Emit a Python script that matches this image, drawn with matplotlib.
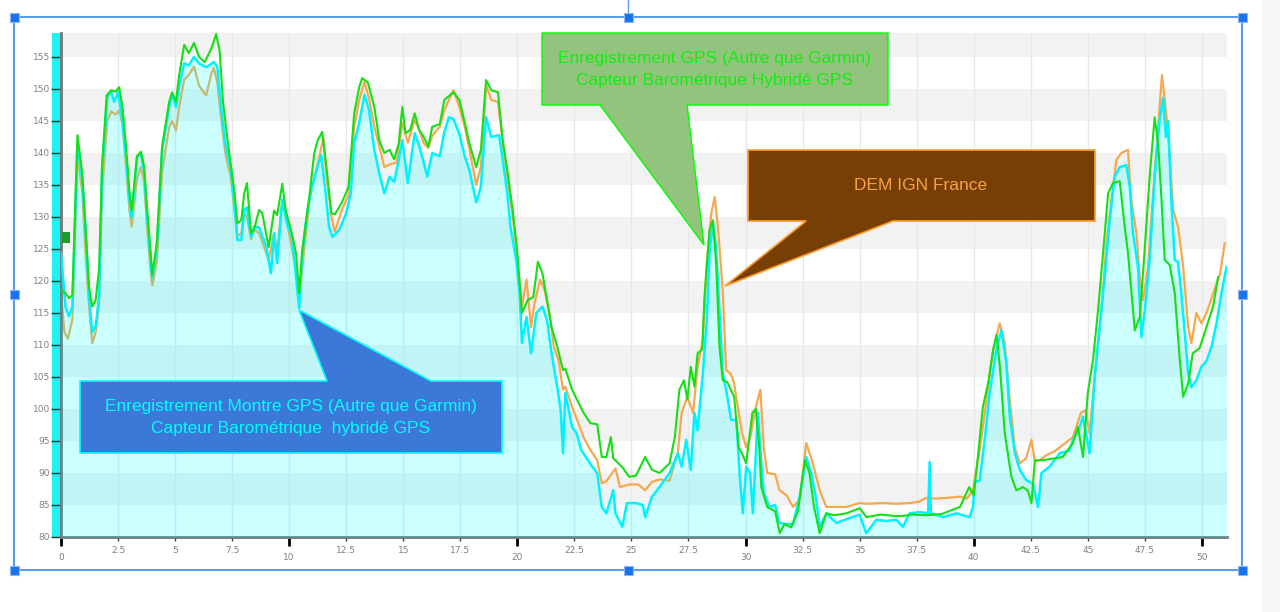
import matplotlib
matplotlib.use("Agg")
import matplotlib.pyplot as plt
from matplotlib.patches import Polygon, Rectangle
from matplotlib.lines import Line2D
from matplotlib.ticker import MultipleLocator, FuncFormatter

# ---------------- data ----------------
# Cyan: Enregistrement Montre GPS (Autre que Garmin) - barométrique hybridé GPS
cyan_x = [0.0, 0.2, 0.35, 0.5, 0.72, 0.93, 1.08, 1.23, 1.37, 1.52, 1.67, 1.8, 2.03, 2.2, 2.33, 2.5, 2.63,
          2.85, 3.0, 3.1, 3.33, 3.5, 3.64, 3.78, 3.94, 4.0, 4.2, 4.43, 4.74, 4.87, 5.04, 5.17, 5.4, 5.6,
          5.83, 6.05, 6.36, 6.7, 6.85, 7.0, 7.2, 7.45, 7.6, 7.73, 7.9, 8.03, 8.15, 8.33, 8.46, 8.68, 9.0,
          9.2, 9.34, 9.47, 9.7, 9.9, 10.13, 10.3, 10.44, 10.57, 10.8, 11.0, 11.2, 11.4, 11.6, 11.75, 11.9,
          12.2, 12.5, 12.7, 12.85, 13.07, 13.3, 13.5, 13.73, 13.95, 14.17, 14.4, 14.6, 14.8, 14.96, 15.2,
          15.5, 15.7, 15.9, 16.05, 16.27, 16.6, 16.8, 17.0, 17.2, 17.46, 17.7, 17.9, 18.2, 18.4, 18.63,
          18.86, 19.08, 19.2, 19.36, 19.56, 19.7, 19.95, 20.1, 20.2, 20.4, 20.6, 20.83, 21.1, 21.3, 21.5,
          21.75, 21.9, 22.0, 22.1, 22.4, 22.6, 22.8, 23.0, 23.3, 23.5, 23.7, 23.9, 24.2, 24.3, 24.6, 24.8,
          25.2, 25.5, 25.6, 25.9, 26.23, 26.67, 27.03, 27.2, 27.4, 27.6, 27.76, 27.9, 28.13, 28.3, 28.42,
          28.57, 28.71, 28.86, 29.0, 29.15, 29.37, 29.6, 29.74, 29.88, 30.03, 30.2, 30.32, 30.54, 30.69,
          30.8, 31.05, 31.3, 31.49, 31.8, 32.08, 32.37, 32.66, 32.88, 33.1, 33.25, 33.54, 33.98, 34.42,
          35.0, 35.29, 35.73, 36.17, 36.6, 36.9, 37.19, 37.63, 38.0, 38.07, 38.12, 38.65, 39.24, 39.82,
          39.97, 40.04, 40.26, 40.48, 40.7, 40.99, 41.21, 41.43, 41.58, 41.8, 42.02, 42.3, 42.6, 42.82,
          42.97, 43.33, 43.77, 44.2, 44.35, 44.64, 44.79, 45.08, 45.3, 45.52, 45.74, 45.96, 46.18, 46.4,
          46.69, 46.84, 46.98, 47.2, 47.35, 47.5, 47.71, 47.93, 48.15, 48.3, 48.42, 48.52, 48.66, 48.81,
          48.95, 49.1, 49.25, 49.4, 49.54, 49.76, 49.98, 50.2, 50.42, 50.64, 50.86, 51.08]
cyan_y = [124.4, 115.9, 114.5, 116.0, 141.3, 135.8, 128.0, 117.5, 112.0, 113.0, 117.5, 137.3, 148.8, 149.5,
          148.0, 149.5, 146.7, 139.4, 132.7, 130.0, 139.4, 140.0, 137.2, 130.0, 122.8, 120.5, 125.3, 140.5,
          147.2, 149.1, 147.2, 150.3, 154.0, 153.7, 155.0, 154.0, 153.4, 154.2, 153.5, 147.8, 141.6, 137.3,
          132.2, 126.4, 126.4, 131.1, 131.5, 126.9, 128.5, 128.4, 125.3, 121.2, 127.5, 122.8, 132.7, 129.0,
          126.9, 120.6, 115.8, 124.4, 131.0, 134.7, 137.3, 139.7, 133.7, 128.4, 126.9, 128.0, 130.6, 133.7,
          141.5, 144.7, 149.1, 146.7, 140.5, 136.8, 133.7, 136.3, 135.5, 138.9, 142.0, 135.3, 143.1, 141.0,
          138.5, 136.3, 140.0, 139.5, 143.3, 145.6, 145.3, 143.0, 139.4, 137.3, 132.3, 134.7, 145.6, 142.5,
          142.7, 142.8, 138.9, 133.7, 128.4, 123.3, 118.1, 110.3, 114.4, 108.7, 115.0, 116.0, 113.9, 108.7,
          103.4, 99.8, 93.1, 102.5, 97.2, 96.2, 93.6, 92.5, 90.9, 90.0, 84.7, 83.7, 87.3, 83.7, 81.6, 85.3,
          85.3, 85.0, 83.1, 86.3, 87.8, 90.0, 93.1, 91.0, 95.2, 90.5, 99.4, 96.7, 105.6, 113.9, 124.4,
          129.0, 125.3, 115.0, 105.6, 103.0, 98.3, 98.3, 90.0, 83.7, 91.0, 90.0, 83.7, 99.4, 91.5,
          86.9, 84.7, 85.0, 82.2, 82.0, 82.0, 86.3, 92.5, 90.0, 85.8, 81.6, 83.7, 82.2, 82.8,
          83.5, 80.6, 82.7, 82.5, 82.7, 81.6, 83.7, 83.9, 83.7, 91.7, 83.7, 83.1, 83.7, 83.1,
          84.7, 88.6, 88.8, 95.2, 102.5, 109.2, 112.3, 107.2, 98.8, 93.1, 90.5, 88.9, 88.3, 84.7,
          90.0, 91.0, 93.1, 93.5, 95.2, 97.2, 98.8, 93.1, 105.0, 112.8, 120.6, 129.5, 136.3, 137.8,
          138.1, 134.7, 127.5, 122.2, 111.25, 115.5, 123.3, 136.3, 145.2, 148.6, 142.5, 145.0, 132.7, 123.3,
          123.0, 118.1, 111.9, 105.6, 103.4, 104.5, 106.6, 107.5, 109.7, 113.4, 118.1, 122.2]

# Green: Enregistrement GPS (Autre que Garmin) - barométrique hybridé GPS
green_x = [0.0, 0.2, 0.35, 0.5, 0.72, 0.93, 1.08, 1.23, 1.37, 1.52, 1.67, 1.8, 2.0, 2.2, 2.4, 2.55, 2.7,
           2.85, 3.0, 3.1, 3.33, 3.5, 3.64, 3.78, 3.94, 4.0, 4.2, 4.43, 4.74, 4.87, 5.04, 5.17, 5.4, 5.6,
           5.83, 6.05, 6.3, 6.6, 6.8, 6.95, 7.1, 7.3, 7.45, 7.6, 7.73, 7.9, 8.03, 8.15, 8.33, 8.46, 8.68,
           8.82, 9.1, 9.34, 9.47, 9.7, 9.85, 10.05, 10.3, 10.44, 10.57, 10.9, 11.1, 11.25, 11.45, 11.6,
           11.85, 12.0, 12.3, 12.6, 12.85, 13.07, 13.2, 13.45, 13.73, 13.95, 14.17, 14.4, 14.6, 14.8, 14.96,
           15.1, 15.3, 15.5, 15.7, 15.9, 16.1, 16.27, 16.6, 16.8, 17.2, 17.46, 17.7, 17.9, 18.2, 18.4,
           18.63, 18.86, 19.15, 19.36, 19.56, 19.8, 20.0, 20.2, 20.45, 20.7, 20.9, 21.1, 21.3, 21.5, 21.75,
           22.0, 22.1, 22.4, 22.9, 23.2, 23.5, 23.7, 23.9, 24.1, 24.2, 24.6, 24.9, 25.2, 25.6, 25.9, 26.23,
           26.67, 26.9, 27.1, 27.3, 27.45, 27.6, 27.76, 27.9, 28.1, 28.2, 28.42, 28.57, 28.71, 28.86, 29.0,
           29.2, 29.5, 29.7, 29.85, 30.03, 30.3, 30.45, 30.6, 30.69, 30.95, 31.3, 31.5, 31.7, 32.0, 32.3,
           32.6, 32.8, 33.0, 33.25, 33.54, 33.9, 34.42, 35.0, 35.3, 35.9, 36.5, 36.9, 37.3, 37.9, 38.6,
           39.4, 39.8, 40.0, 40.2, 40.4, 40.63, 40.85, 41.0, 41.15, 41.36, 41.65, 41.87, 42.16, 42.38,
           42.53, 42.68, 43.04, 43.9, 44.35, 44.57, 44.79, 45.0, 45.23, 45.45, 45.67, 45.89, 46.1, 46.4,
           46.62, 46.76, 47.06, 47.28, 47.5, 47.71, 47.93, 48.08, 48.23, 48.37, 48.59, 48.81, 49.03, 49.18,
           49.4, 49.6, 49.9, 50.2, 50.49, 50.71]
green_y = [118.6, 118.1, 117.3, 117.8, 142.8, 137.0, 128.0, 119.0, 116.0, 117.0, 122.0, 138.0, 149.0, 149.8,
           149.6, 150.3, 147.0, 141.0, 134.0, 131.0, 139.5, 140.2, 138.0, 131.0, 124.0, 121.0, 126.0, 141.0,
           148.0, 149.5, 148.0, 152.0, 156.9, 155.6, 157.2, 155.0, 154.2, 156.4, 158.6, 156.0, 148.0, 142.0,
           138.0, 134.0, 129.0, 129.5, 133.7, 135.3, 127.5, 128.0, 131.1, 130.6, 125.3, 131.0, 130.3, 135.2,
           131.0, 128.4, 124.4, 118.1, 124.7, 133.7, 140.0, 142.0, 143.3, 138.9, 130.6, 130.4, 132.2, 134.7,
           146.2, 150.3, 151.7, 151.0, 147.2, 142.0, 140.0, 140.5, 139.0, 141.5, 147.2, 143.1, 143.6, 146.2,
           143.6, 142.5, 141.0, 144.1, 144.5, 148.3, 149.5, 148.3, 144.7, 141.5, 137.8, 140.5, 151.4, 149.8,
           149.5, 142.0, 137.3, 131.0, 124.4, 115.0, 117.0, 117.5, 123.0, 121.2, 117.0, 112.8, 109.7, 106.1,
           106.3, 103.0, 99.4, 97.8, 97.6, 92.5, 92.5, 95.6, 92.3, 90.9, 89.4, 89.6, 92.5, 90.5, 90.0,
           91.5, 95.6, 103.0, 104.5, 101.5, 106.6, 103.5, 108.7, 109.3, 117.5, 128.0, 129.5, 122.8, 109.7,
           104.5, 104.2, 101.9, 94.0, 93.0, 91.5, 99.4, 100.0, 94.0, 87.8, 84.7, 84.0, 80.6, 82.0, 81.5,
           84.0, 92.0, 90.0, 84.7, 80.6, 83.7, 83.4, 83.7, 84.5, 83.1, 83.5, 83.3, 83.3, 83.5, 83.4, 83.6,
           84.7, 87.8, 86.5, 93.1, 100.3, 104.0, 109.2, 111.6, 106.5, 96.2, 89.4, 87.3, 87.8, 87.2,
           85.3, 92.0, 92.0, 92.5, 94.7, 97.2, 92.5, 102.5, 107.7, 115.5, 124.4, 133.7, 135.3, 135.6,
           128.4, 124.4, 112.3, 114.4, 125.3, 136.3, 145.6, 141.5, 132.7, 123.3, 122.5, 118.1, 107.7, 101.9,
           104.0, 108.7, 109.5, 112.8, 116.0, 120.6]

# Orange: DEM IGN France
orange_x = [0.0, 0.15, 0.3, 0.5, 0.72, 0.93, 1.08, 1.23, 1.37, 1.52, 1.67, 1.8, 2.03, 2.2, 2.4, 2.55, 2.7,
            2.85, 3.0, 3.1, 3.33, 3.5, 3.64, 3.78, 3.94, 4.0, 4.2, 4.43, 4.74, 4.87, 5.04, 5.17, 5.4, 5.6,
            5.83, 6.05, 6.36, 6.6, 6.7, 6.85, 7.0, 7.2, 7.45, 7.6, 7.73, 7.9, 8.03, 8.15, 8.33, 8.46, 8.68,
            9.1, 9.34, 9.47, 9.7, 10.0, 10.3, 10.44, 10.65, 10.9, 11.15, 11.5, 11.6, 11.85, 12.0, 12.3,
            12.6, 12.85, 13.07, 13.3, 13.5, 13.73, 13.95, 14.17, 14.4, 14.7, 14.96, 15.2, 15.5, 15.7, 15.9,
            16.1, 16.27, 16.6, 16.8, 17.0, 17.2, 17.46, 17.7, 17.9, 18.2, 18.4, 18.63, 18.86, 19.15, 19.36,
            19.56, 19.8, 20.0, 20.2, 20.4, 20.6, 20.75, 21.0, 21.2, 21.4, 21.6, 21.8, 22.0, 22.1, 22.4,
            22.6, 22.9, 23.2, 23.5, 23.7, 23.9, 24.3, 24.5, 24.9, 25.3, 25.6, 25.9, 26.23, 26.67, 27.03,
            27.2, 27.45, 27.7, 27.9, 28.13, 28.3, 28.5, 28.65, 28.8, 29.0, 29.15, 29.35, 29.5, 29.7, 29.85,
            30.03, 30.2, 30.45, 30.65, 30.8, 30.95, 31.3, 31.49, 31.8, 32.08, 32.37, 32.66, 32.95, 33.25,
            33.54, 33.98, 34.42, 35.0, 35.4, 36.0, 36.6, 37.2, 37.6, 37.9, 38.3, 38.8, 39.4, 39.7, 39.97,
            40.26, 40.56, 40.85, 41.14, 41.36, 41.58, 41.8, 42.02, 42.3, 42.53, 42.68, 42.9, 43.19, 43.5,
            43.77, 44.35, 44.7, 44.9, 45.08, 45.3, 45.6, 45.8, 46.03, 46.25, 46.47, 46.76, 46.9, 47.13,
            47.28, 47.42, 47.64, 47.86, 48.08, 48.25, 48.37, 48.52, 48.74, 48.96, 49.18, 49.4, 49.54,
            49.76, 49.98, 50.2, 50.5, 50.8, 51.0]
orange_y = [118.0, 112.0, 111.0, 114.0, 139.5, 134.0, 124.0, 116.0, 110.3, 112.0, 116.5, 134.0, 145.0, 146.5,
            146.0, 146.7, 144.5, 138.0, 131.0, 128.5, 136.0, 137.8, 135.5, 128.0, 121.0, 119.3, 123.0, 137.0,
            144.0, 145.0, 143.5, 147.0, 151.5, 152.2, 153.5, 150.5, 149.0, 152.5, 153.3, 151.0, 146.0, 140.0,
            136.0, 131.0, 127.0, 127.5, 130.5, 130.0, 126.5, 128.0, 127.5, 123.3, 127.5, 124.5, 132.7, 127.5,
            121.5, 117.5, 124.5, 133.1, 136.8, 142.3, 137.5, 130.0, 127.7, 131.0, 133.5, 144.1, 148.3, 151.1,
            148.5, 144.1, 141.0, 137.8, 138.2, 138.5, 144.7, 141.6, 145.2, 143.6, 141.5, 140.8, 142.7, 144.1,
            146.7, 148.3, 149.8, 147.2, 144.0, 140.5, 135.0, 137.8, 150.6, 148.3, 148.0, 141.5, 136.3, 130.0,
            123.3, 116.0, 120.2, 112.8, 116.5, 120.2, 118.5, 115.0, 109.7, 107.7, 103.0, 103.5, 100.3, 98.5,
            95.6, 93.6, 92.0, 88.4, 88.7, 90.7, 87.8, 88.2, 88.2, 87.3, 88.6, 89.0, 88.8, 93.1, 99.4, 101.9,
            99.4, 106.6, 110.8, 122.8, 130.6, 133.1, 128.0, 118.6, 106.1, 105.5, 104.0, 99.4, 96.2, 94.0,
            95.5, 100.3, 103.0, 94.0, 90.0, 89.8, 87.3, 86.5, 84.7, 85.8, 94.7, 91.5, 87.3, 84.7, 84.7,
            84.7, 85.3, 85.2, 85.3, 85.2, 85.3, 85.5, 86.1, 86.0, 86.1, 86.3, 86.0, 87.3, 93.6, 101.4,
            109.2, 113.4, 110.3, 101.4, 94.0, 91.5, 92.3, 95.2, 91.8, 92.0, 92.8, 93.3, 94.0, 95.6, 99.4,
            99.8, 96.2, 105.0, 115.5, 125.3, 132.7, 138.9, 140.0, 140.5, 132.7, 127.5, 120.6, 117.0, 122.2,
            133.7, 144.1, 152.2, 148.3, 143.1, 131.1, 128.4, 122.2, 112.8, 110.3, 115.0, 113.4, 115.0,
            118.1, 121.2, 125.9]

y_ticks = list(range(80, 160, 5))
x_major = [0, 10, 20, 30, 40, 50]

callout_green = ["Enregistrement GPS (Autre que Garmin)", "Capteur Barométrique Hybridé GPS"]
callout_brown = ["DEM IGN France"]
callout_blue = ["Enregistrement Montre GPS (Autre que Garmin)", "Capteur Barométrique  hybridé GPS"]

# ---------------- figure ----------------
W, H = 1280, 612
fig = plt.figure(figsize=(W / 100, H / 100), dpi=100)
fig.patch.set_facecolor('white')


def fx(px):
    return px / W


def fy(py):
    return 1 - py / H


def P(points):
    return [(fx(a), fy(b)) for a, b in points]


# right grey strip
fig.add_artist(Rectangle((fx(1262), 0), fx(W - 1262), 1, transform=fig.transFigure,
                         facecolor='#f4f6f8', edgecolor='none', zorder=-3))

ax = fig.add_axes([fx(61), fy(537), (1227 - 61) / W, (537 - 33) / H])
ax.set_xlim(0, 51.1)
ax.set_ylim(80, 158.75)
ax.set_facecolor('white')
ax.set_axisbelow(True)

for lo in range(85, 160, 10):
    ax.axhspan(lo, lo + 5, color='#f2f2f2', lw=0, zorder=0)

# series
ax.plot(orange_x, orange_y, color='#f5a94e', lw=1.6, zorder=2, solid_joinstyle='round')
ax.fill_between(cyan_x, cyan_y, 80, color='#00ffff', alpha=0.2, lw=0, zorder=3)
ax.plot(cyan_x, cyan_y, color='#00f2ff', lw=1.8, zorder=4, solid_joinstyle='round')
ax.plot(green_x, green_y, color='#14e014', lw=1.5, zorder=5, solid_joinstyle='round')

# axes styling
ax.xaxis.set_major_locator(MultipleLocator(10))
ax.xaxis.set_minor_locator(MultipleLocator(2.5))
fmt = FuncFormatter(lambda v, p: f"{v:g}")
ax.xaxis.set_major_formatter(fmt)
ax.xaxis.set_minor_formatter(fmt)
ax.set_yticks(y_ticks)
ax.grid(axis='x', which='both', color='#e8e8e8', lw=1)
ax.grid(axis='y', visible=False)

ax.tick_params(axis='x', which='major', length=6.5, width=2, color='black',
               labelsize=6.5, labelcolor='#808080', pad=5)
ax.tick_params(axis='x', which='minor', length=3, width=1, color='#404040',
               labelsize=6.5, labelcolor='#808080', pad=3.5)
ax.tick_params(axis='y', length=7, width=1, color='#333333',
               labelsize=6.5, labelcolor='#808080', pad=1)
for s in ['top', 'right']:
    ax.spines[s].set_visible(False)
for s in ['left', 'bottom']:
    ax.spines[s].set_color('#777777')
    ax.spines[s].set_linewidth(2)

# cyan slider bar at left
fig.add_artist(Rectangle((fx(52), fy(537)), (61 - 52) / W, (537 - 33) / H, transform=fig.transFigure,
                         facecolor='#1ef2f2', edgecolor='none', zorder=-1))
fig.add_artist(Rectangle((fx(62), fy(243)), 8 / W, 11 / H, transform=fig.transFigure,
                         facecolor='#1c9e2c', edgecolor='none', zorder=6))

# callouts
tfont = ['Liberation Sans', 'DejaVu Sans']
green_poly = [(542, 33), (888, 33), (888, 105), (687, 105), (704, 245), (600, 105), (542, 105)]
fig.add_artist(Polygon(P(green_poly), closed=True, transform=fig.transFigure,
                       facecolor='#93c47d', edgecolor='#00ff00', lw=1, zorder=10))
fig.text(fx(715), fy(59), callout_green[0], color='#11ee11', fontsize=12.5, family=tfont,
         ha='center', va='center', zorder=11)
fig.text(fx(715), fy(80), callout_green[1], color='#11ee11', fontsize=12.5, family=tfont,
         ha='center', va='center', zorder=11)

brown_poly = [(748, 150), (1095, 150), (1095, 221), (893, 221), (725, 286), (806, 221), (748, 221)]
fig.add_artist(Polygon(P(brown_poly), closed=True, transform=fig.transFigure,
                       facecolor='#783f04', edgecolor='#ff9c2a', lw=1.2, zorder=10))
fig.text(fx(921), fy(186), callout_brown[0], color='#f6a24a', fontsize=12.5, family=tfont,
         ha='center', va='center', zorder=11)

blue_poly = [(80, 381), (327, 381), (299, 310), (431, 381), (502, 381), (502, 453), (80, 453)]
fig.add_artist(Polygon(P(blue_poly), closed=True, transform=fig.transFigure,
                       facecolor='#3c78d8', edgecolor='#00ffff', lw=1.2, zorder=10))
fig.text(fx(291), fy(407), callout_blue[0], color='#00ffff', fontsize=12.5, family=tfont,
         ha='center', va='center', zorder=11)
fig.text(fx(291), fy(428), callout_blue[1], color='#00ffff', fontsize=12.5, family=tfont,
         ha='center', va='center', zorder=11)

# selection frame with handles
fig.add_artist(Rectangle((fx(14), fy(570)), (1242 - 14) / W, (570 - 17) / H, transform=fig.transFigure,
                         facecolor='none', edgecolor='#5b9be8', lw=1.5, zorder=12))
fig.add_artist(Line2D([fx(628), fx(628)], [fy(0), fy(17)], transform=fig.transFigure,
                      color='#5b9be8', lw=1, zorder=12))
for hx, hy in [(14, 17), (628, 17), (1242, 17), (14, 294), (1242, 294), (14, 570), (628, 570), (1242, 570)]:
    fig.add_artist(Rectangle((fx(hx - 4.5), fy(hy + 4.5)), 9 / W, 9 / H, transform=fig.transFigure,
                             facecolor='#1a73e8', edgecolor='#8ab4f8', lw=0.8, zorder=13))

fig.savefig('out.png', dpi=100, facecolor='white')
